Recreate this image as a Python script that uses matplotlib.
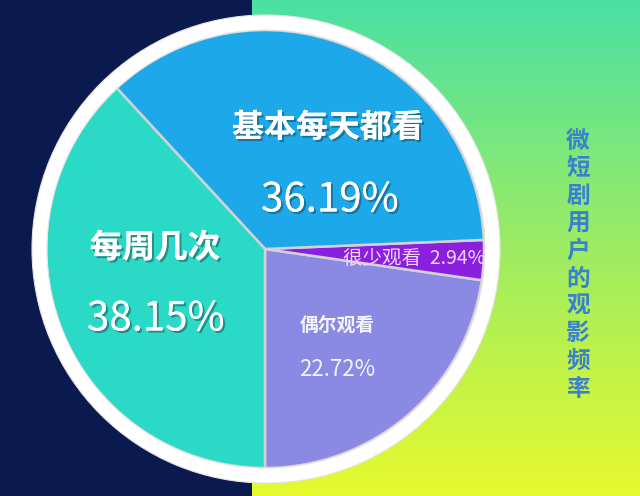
import numpy as np
import matplotlib
matplotlib.use("Agg")
import matplotlib.pyplot as plt
import matplotlib.patheffects as pe
from matplotlib.patches import Rectangle, Wedge
from matplotlib.colors import LinearSegmentedColormap

plt.rcParams['font.family'] = ['Noto Sans CJK SC', 'DejaVu Sans']

# data (counter-clockwise from the bottom)
labels = ['偶尔观看', '很少观看', '基本每天都看', '每周几次']
shares = [22.72, 2.94, 36.19, 38.15]
colors = ['#8a89e3', '#8b1fe0', '#1da9e9', '#2bdac6']
title = '微短剧用户的观影频率'

W, H = 640, 496
fig = plt.figure(figsize=(W / 100, H / 100), dpi=100)
ax = fig.add_axes([0, 0, 1, 1])
ax.set_xlim(0, W)
ax.set_ylim(0, H)
ax.set_aspect('equal')
ax.axis('off')


def Y(y):
    # image row -> data y
    return H - y


# background: navy on the left, green-yellow gradient on the right
ax.add_patch(Rectangle((0, 0), 252, H, color='#0b1a4e', zorder=0))
grad = LinearSegmentedColormap.from_list('bg', ['#4ae0a4', '#9dec62', '#e6fa2e'])
ax.imshow(np.linspace(0, 1, 256).reshape(-1, 1), cmap=grad, aspect='auto',
          extent=(252, W, 0, H), origin='upper', zorder=0)

cx, cy, r = 265, Y(249), 219
ax.pie(shares, colors=colors, startangle=-90, counterclock=True,
       center=(cx, cy), radius=r, frame=True,
       wedgeprops=dict(edgecolor='#d2d2d6', linewidth=1.8))
ax.set_xlim(0, W)
ax.set_ylim(0, H)
ax.axis('off')

shadow = [pe.withSimplePatchShadow(offset=(1.5, -1.5), shadow_rgbFace='#1a3040', alpha=0.45),
          pe.Normal()]

ax.text(328, Y(128), labels[2], color='white', fontsize=23, fontweight='bold',
        ha='center', va='center', path_effects=shadow, zorder=5)
ax.text(330, Y(200), f'{shares[2]:.2f}%', color='white', fontsize=29,
        ha='center', va='center', path_effects=shadow, zorder=5)
ax.text(155, Y(248), labels[3], color='white', fontsize=23.5, fontweight='bold',
        ha='center', va='center', path_effects=shadow, zorder=5)
ax.text(156, Y(319), f'{shares[3]:.2f}%', color='white', fontsize=29,
        ha='center', va='center', path_effects=shadow, zorder=5)
ax.text(337, Y(325), labels[0], color='#f4f4ff', fontsize=13.5, fontweight='bold',
        ha='center', va='center', zorder=5)
ax.text(337, Y(369), f'{shares[0]:.2f}%', color='#f4f4ff', fontsize=16,
        ha='center', va='center', zorder=5)
ax.text(343, Y(259), f'{labels[1]}  {shares[1]:.2f}%', color='#f3d6f3', fontsize=14,
        ha='left', va='center', zorder=5)

# white ring around the pie
ax.add_patch(Wedge((cx + 1, cy), 234, 0, 360, width=15, facecolor='white',
                   edgecolor='#e4e4e4', linewidth=0.8, zorder=6))

# vertical title
for i, ch in enumerate(title):
    ax.text(578, Y(141 + i * 27.5), ch, color='#3b7fcf', fontsize=17, fontweight='bold',
            ha='center', va='center', zorder=5)

fig.savefig('out.png', dpi=100)
